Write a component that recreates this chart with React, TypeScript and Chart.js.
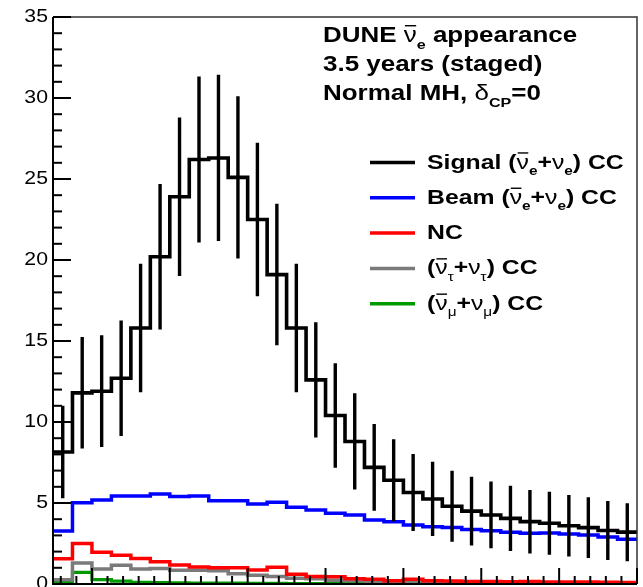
import React, { useEffect, useRef } from "react";
import { Chart, registerables } from "chart.js";

Chart.register(...registerables);

// Reconstructed neutrino energy bins (GeV)
const binEdges = [
  0.5, 0.75, 1, 1.25, 1.5, 1.75, 2, 2.25, 2.5, 2.75, 3, 3.25, 3.5, 3.75, 4, 4.25,
  4.5, 4.75, 5, 5.25, 5.5, 5.75, 6, 6.25, 6.5, 6.75, 7, 7.25, 7.5, 7.75, 8,
];

// Events per bin
const signal = [
  8.15, 11.8, 11.9, 12.7, 15.8, 20.2, 23.9, 26.2, 26.3, 25.1, 22.5, 19.1, 15.8, 12.6, 10.4,
  8.8, 7.2, 6.4, 5.65, 5.25, 4.8, 4.5, 4.26, 4.05, 3.85, 3.75, 3.6, 3.48, 3.3, 3.2,
];
const signalErr = [
  2.85, 3.44, 3.45, 3.56, 3.97, 4.49, 4.89, 5.12, 5.13, 5.01, 4.74, 4.37, 3.97, 3.55, 3.22,
  2.97, 2.68, 2.53, 2.38, 2.29, 2.19, 2.12, 2.06, 2.01, 1.96, 1.94, 1.9, 1.87, 1.82, 1.79,
];
const beam = [
  3.27, 5.02, 5.19, 5.43, 5.43, 5.55, 5.4, 5.43, 5.14, 5.14, 4.94, 5.04, 4.73, 4.57, 4.36,
  4.26, 3.95, 3.85, 3.64, 3.54, 3.48, 3.37, 3.29, 3.2, 3.13, 3.15, 3.08, 3.02, 2.9, 2.76,
];
const nc = [
  1.56, 2.5, 1.96, 1.77, 1.57, 1.38, 1.18, 1.05, 1.0, 1.0, 0.87, 1.04, 0.6, 0.46, 0.44,
  0.33, 0.3, 0.2, 0.3, 0.2, 0.18, 0.16, 0.15, 0.14, 0.15, 0.13, 0.12, 0.12, 0.11, 0.1,
];
const nutau = [
  0.27, 1.3, 0.92, 1.15, 0.92, 0.95, 0.85, 0.85, 0.82, 0.64, 0.54, 0.47, 0.35, 0.33, 0.23,
  0.2, 0.17, 0.14, 0.12, 0.1, 0.09, 0.08, 0.07, 0.06, 0.05, 0.05, 0.04, 0.04, 0.03, 0.03,
];
const numu = [
  0.1, 0.72, 0.27, 0.18, 0.1, 0.08, 0.07, 0.06, 0.05, 0.05, 0.04, 0.04, 0.03, 0.03, 0.03,
  0.02, 0.02, 0.02, 0.02, 0.02, 0.01, 0.01, 0.01, 0.01, 0.01, 0.01, 0.01, 0.01, 0.01, 0.01,
];

const yTicks = [0, 5, 10, 15, 20, 25, 30, 35];
const xMajorTicks = [1, 2, 3, 4, 5, 6, 7, 8];

const COLORS = {
  signal: "#000000",
  beam: "#0000ff",
  nc: "#ff0000",
  nutau: "#7a7a7a",
  numu: "#009a00",
};

type Seg = { t: string; sub?: boolean; bar?: boolean; greek?: boolean };

const FONT = '"Liberation Sans", Arial, Helvetica, sans-serif';
const STRETCH = 1.18;

function drawRich(ctx: CanvasRenderingContext2D, segs: Seg[], x: number, y: number, size: number) {
  ctx.save();
  ctx.translate(x, y);
  ctx.scale(STRETCH, 1);
  ctx.textBaseline = "alphabetic";
  ctx.textAlign = "left";
  ctx.fillStyle = "#000";
  let cx = 0;
  for (const s of segs) {
    const fs = s.sub ? size * 0.62 : size;
    ctx.font = `${s.greek ? "" : "bold "}${fs}px ${FONT}`;
    const dy = s.sub ? size * 0.3 : 0;
    ctx.fillText(s.t, cx, dy);
    const w = ctx.measureText(s.t).width;
    if (s.bar) {
      ctx.strokeStyle = "#000";
      ctx.lineWidth = 1.4;
      ctx.beginPath();
      ctx.moveTo(cx + 1, -size * 0.74);
      ctx.lineTo(cx + w - 0.5, -size * 0.74);
      ctx.stroke();
    }
    cx += w;
  }
  ctx.restore();
}

const titleLines: Seg[][] = [
  [{ t: "DUNE " }, { t: "ν", greek: true, bar: true }, { t: "e", sub: true }, { t: " appearance" }],
  [{ t: "3.5 years (staged)" }],
  [{ t: "Normal MH, " }, { t: "δ", greek: true }, { t: "CP", sub: true }, { t: "=0" }],
];

const legendItems: { color: string; segs: Seg[] }[] = [
  {
    color: COLORS.signal,
    segs: [
      { t: "Signal (" }, { t: "ν", greek: true, bar: true }, { t: "e", sub: true },
      { t: "+" }, { t: "ν", greek: true }, { t: "e", sub: true }, { t: ") CC" },
    ],
  },
  {
    color: COLORS.beam,
    segs: [
      { t: "Beam (" }, { t: "ν", greek: true, bar: true }, { t: "e", sub: true },
      { t: "+" }, { t: "ν", greek: true }, { t: "e", sub: true }, { t: ") CC" },
    ],
  },
  { color: COLORS.nc, segs: [{ t: "NC" }] },
  {
    color: COLORS.nutau,
    segs: [
      { t: "(" }, { t: "ν", greek: true, bar: true }, { t: "τ", sub: true, greek: true },
      { t: "+" }, { t: "ν", greek: true }, { t: "τ", sub: true, greek: true }, { t: ") CC" },
    ],
  },
  {
    color: COLORS.numu,
    segs: [
      { t: "(" }, { t: "ν", greek: true, bar: true }, { t: "μ", sub: true, greek: true },
      { t: "+" }, { t: "ν", greek: true }, { t: "μ", sub: true, greek: true }, { t: ") CC" },
    ],
  },
];

function histPoints(values: number[]) {
  const pts = values.map((v, i) => ({ x: binEdges[i], y: v }));
  pts.push({ x: binEdges[values.length], y: values[values.length - 1] });
  return pts;
}

function errorPoints(values: number[], errs: number[]) {
  const pts: { x: number; y: number | null }[] = [];
  values.forEach((v, i) => {
    const c = (binEdges[i] + binEdges[i + 1]) / 2;
    pts.push({ x: c, y: v - errs[i] });
    pts.push({ x: c, y: v + errs[i] });
    pts.push({ x: c, y: null });
  });
  return pts;
}

const framePlugin = {
  id: "rootFrame",
  afterDatasetsDraw(chart: any) {
    const { ctx, chartArea, scales } = chart;
    const { left, right, top, bottom } = chartArea;
    const xs = scales.x;
    const ys = scales.y;
    ctx.save();
    ctx.strokeStyle = "#000";
    ctx.lineCap = "butt";

    // frame
    ctx.lineWidth = 1.5;
    ctx.strokeStyle = "#333";
    ctx.beginPath();
    ctx.moveTo(left, top);
    ctx.lineTo(right, top);
    ctx.lineTo(right, bottom);
    ctx.stroke();
    ctx.strokeStyle = "#000";
    ctx.lineWidth = 2;
    ctx.beginPath();
    ctx.moveTo(left, top);
    ctx.lineTo(left, bottom);
    ctx.lineTo(right, bottom);
    ctx.stroke();

    // y ticks (inward)
    for (let v = 0; v <= 35; v += 1) {
      const py = ys.getPixelForValue(v);
      const len = v % 5 === 0 ? 18 : 9;
      ctx.beginPath();
      ctx.moveTo(left, py);
      ctx.lineTo(left + len, py);
      ctx.stroke();
    }
    // x ticks (inward)
    for (let k = 3; k <= 40; k += 1) {
      const v = k * 0.2;
      const px = xs.getPixelForValue(v);
      const major = xMajorTicks.includes(Math.round(v * 10) / 10);
      const len = major ? 16 : 8;
      ctx.beginPath();
      ctx.moveTo(px, bottom);
      ctx.lineTo(px, bottom - len);
      ctx.stroke();
    }

    // y labels
    ctx.fillStyle = "#000";
    ctx.textAlign = "right";
    ctx.textBaseline = "middle";
    ctx.font = `18px ${FONT}`;
    yTicks.forEach((v) => {
      const py = ys.getPixelForValue(v);
      ctx.save();
      ctx.translate(left - 5, py);
      ctx.scale(STRETCH, 1);
      ctx.fillText(String(v), 0, 0);
      ctx.restore();
    });
    ctx.restore();
  },
  afterDraw(chart: any) {
    const { ctx } = chart;
    // caption
    titleLines.forEach((segs, i) => drawRich(ctx, segs, 323, 42 + i * 29, 22));
    // legend
    legendItems.forEach((item, i) => {
      const cy = 162.5 + i * 35.3;
      ctx.save();
      ctx.strokeStyle = item.color;
      ctx.lineWidth = 3.5;
      ctx.beginPath();
      ctx.moveTo(370, cy);
      ctx.lineTo(415, cy);
      ctx.stroke();
      ctx.restore();
      drawRich(ctx, item.segs, 427, cy + 6, 21);
    });
  },
};

export default function App() {
  const ref = useRef<HTMLCanvasElement | null>(null);

  useEffect(() => {
    if (!ref.current) return;
    const line = (label: string, data: any[], color: string, width: number, stepped: any) => ({
      label,
      data,
      borderColor: color,
      backgroundColor: color,
      borderWidth: width,
      pointRadius: 0,
      fill: false,
      stepped,
      spanGaps: false,
      tension: 0,
    });
    const chart = new Chart(ref.current, {
      type: "line",
      data: {
        datasets: [
          line("Signal error", errorPoints(signal, signalErr), COLORS.signal, 3.4, false),
          line("Signal", histPoints(signal), COLORS.signal, 3.6, "before"),
          line("Beam", histPoints(beam), COLORS.beam, 3.5, "before"),
          line("NC", histPoints(nc), COLORS.nc, 3.5, "before"),
          line("nutau", histPoints(nutau), COLORS.nutau, 3.5, "before"),
          line("numu", histPoints(numu), COLORS.numu, 3.2, "before"),
        ] as any,
      },
      options: {
        animation: false,
        responsive: false,
        devicePixelRatio: 1,
        layout: { padding: { left: 53, top: 17, right: 6, bottom: 3 } },
        scales: {
          x: { type: "linear", min: 0.5, max: 8, display: false },
          y: { type: "linear", min: 0, max: 35, display: false },
        },
        plugins: {
          legend: { display: false },
          tooltip: { enabled: false },
        },
      },
      plugins: [framePlugin],
    });
    return () => chart.destroy();
  }, []);

  return (
    <div
      style={{
        position: "fixed",
        left: 0,
        top: 0,
        width: 643,
        height: 587,
        overflow: "hidden",
        background: "#fff",
      }}
    >
      <canvas ref={ref} width={643} height={587} style={{ display: "block" }} />
    </div>
  );
}
